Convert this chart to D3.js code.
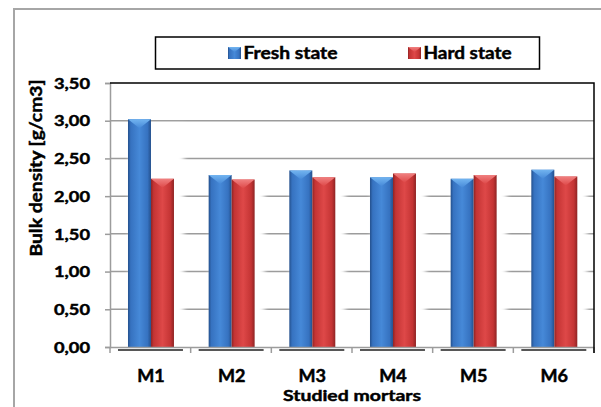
<!DOCTYPE html>
<html>
<head>
<meta charset="utf-8">
<script src="https://cdn.jsdelivr.net/npm/d3@7"></script>
<style>
html,body{margin:0;padding:0;background:#fff;}
svg{display:block;}
text{font-family:Lato,"Open Sans",sans-serif;font-weight:bold;fill:#000;stroke:#000;stroke-width:0.45px;}
</style>
</head>
<body>
<svg id="chart" width="601" height="407"></svg>
<script>
const categories = ["M1", "M2", "M3", "M4", "M5", "M6"];
const seriesNames = ["Fresh state", "Hard state"];
const freshState = [3.02, 2.28, 2.34, 2.25, 2.23, 2.35];
const hardState = [2.23, 2.22, 2.25, 2.30, 2.28, 2.26];
const yTicks = [0, 0.5, 1, 1.5, 2, 2.5, 3, 3.5];
const yTitle = "Bulk density [g/cm3]";
const xTitle = "Studied mortars";

const series = [freshState, hardState];
const palette = {
  "Fresh state": {dark: "#24508c", mid: "#3672c0", light: "#4689d8", cap: "#72b4f0"},
  "Hard state":  {dark: "#8e2424", mid: "#c43434", light: "#de4848", cap: "#f08080"}
};

const svg = d3.select("#chart");
const L = 110, R = 594, T = 83, B = 347;

// outer frame
svg.append("rect").attr("x", 14).attr("y", 9).attr("width", 620).attr("height", 420)
  .attr("fill", "#fff").attr("stroke", "#a6a6a6").attr("stroke-width", 2);

const defs = svg.append("defs");
seriesNames.forEach((s, i) => {
  const c = palette[s];
  const g = defs.append("linearGradient").attr("id", "g" + i).attr("x1", 0).attr("x2", 1).attr("y1", 0).attr("y2", 0);
  [[0, c.dark], [0.12, c.mid], [0.5, c.light], [0.85, c.mid], [1, c.dark]].forEach(([o, col]) =>
    g.append("stop").attr("offset", o).attr("stop-color", col));
  const gc = defs.append("linearGradient").attr("id", "c" + i).attr("x1", 0).attr("x2", 0).attr("y1", 0).attr("y2", 1);
  gc.append("stop").attr("offset", 0).attr("stop-color", c.cap);
  gc.append("stop").attr("offset", 1).attr("stop-color", c.light);
});
const blur = defs.append("filter").attr("id", "blur").attr("x", "-50%").attr("y", "-50%").attr("width", "200%").attr("height", "200%");
blur.append("feGaussianBlur").attr("stdDeviation", 2.5);

const x = d3.scaleBand().domain(categories).range([L, R]).paddingInner(0).paddingOuter(0);
const bw = x.bandwidth();
const x1 = d3.scaleBand().domain(seriesNames).range([bw * 0.223, bw * 0.793]).padding(0);
const y = d3.scaleLinear().domain([0, 3.5]).range([B, T]);

// gridlines
svg.append("g").selectAll("line").data(yTicks.filter(v => v > 0 && v < 3.5)).join("line")
  .attr("x1", L).attr("x2", R).attr("y1", d => y(d)).attr("y2", d => y(d))
  .attr("stroke", "#9c9c9c").attr("stroke-width", 1.5);

// y axis
const yAxis = d3.axisLeft(y).tickValues(yTicks).tickSize(5).tickPadding(15)
  .tickFormat(d => d3.format(".2f")(d).replace(".", ","));
const ya = svg.append("g").attr("transform", `translate(${L},0)`).call(yAxis);
ya.select(".domain").attr("stroke", "#9c9c9c").attr("stroke-width", 1.5);
ya.selectAll(".tick line").attr("stroke", "#9c9c9c").attr("stroke-width", 1.5);
ya.selectAll(".tick text").style("font-size", "14.5px").attr("textLength", 36).attr("lengthAdjust", "spacingAndGlyphs")
  .attr("dy", "0.36em");

// bar groups
const groups = svg.append("g").selectAll("g").data(categories).join("g")
  .attr("transform", d => `translate(${x(d)},0)`);

// soft white glow to the right of bars
groups.append("rect")
  .attr("x", x1(seriesNames[0]) + 2).attr("width", x1.bandwidth() * 2 + 8)
  .attr("y", (d, i) => y(Math.max(freshState[i], hardState[i])) + 6)
  .attr("height", (d, i) => B - y(Math.max(freshState[i], hardState[i])) - 8)
  .attr("fill", "#fff").attr("filter", "url(#blur)");

// x axis line and ticks
svg.append("line").attr("x1", L).attr("x2", R).attr("y1", B + 0.5).attr("y2", B + 0.5)
  .attr("stroke", "#9c9c9c").attr("stroke-width", 1.5);
svg.append("g").selectAll("line").data(categories.concat(["end"])).join("line")
  .attr("x1", (d, i) => L + i * bw).attr("x2", (d, i) => L + i * bw)
  .attr("y1", B).attr("y2", B + 6).attr("stroke", "#9c9c9c").attr("stroke-width", 1.5);

// dark shadow lines under groups
groups.append("line")
  .attr("x1", x1(seriesNames[0]) - 10).attr("x2", x1(seriesNames[1]) + x1.bandwidth() + 9)
  .attr("y1", B + 3).attr("y2", B + 3).attr("stroke", "#3a3a3a").attr("stroke-width", 2).attr("opacity", 0.85);

series.forEach((vals, si) => {
  const s = seriesNames[si];
  const w = x1.bandwidth();
  groups.append("rect")
    .attr("x", x1(s)).attr("width", w)
    .attr("y", (d, i) => y(vals[i])).attr("height", (d, i) => B - y(vals[i]))
    .attr("fill", `url(#g${si})`);
  groups.append("path")
    .attr("d", (d, i) => {
      const t = y(vals[i]), x0 = x1(s);
      return `M${x0},${t}L${x0 + w},${t}L${x0 + w / 2},${t + 9}Z`;
    })
    .attr("fill", `url(#c${si})`);
});

// plot border top and right
svg.append("path").attr("d", `M${L},${T}L${R},${T}L${R},${B + 6}`)
  .attr("fill", "none").attr("stroke", "#000").attr("stroke-width", 1.5);

// x labels
svg.append("g").selectAll("text").data(categories).join("text")
  .attr("x", d => x(d) + x1(seriesNames[1])).attr("y", 381.5)
  .attr("text-anchor", "middle").style("font-size", "16.5px")
  .attr("textLength", 27.5).attr("lengthAdjust", "spacingAndGlyphs")
  .text(d => d);

svg.append("text").attr("x", (L + R) / 2).attr("y", 401).attr("text-anchor", "middle")
  .style("font-size", "15px").attr("textLength", 138).attr("lengthAdjust", "spacingAndGlyphs")
  .text(xTitle);

// y title
svg.append("text").attr("transform", `translate(42,${168}) rotate(-90)`).attr("text-anchor", "middle")
  .style("font-size", "17px").attr("textLength", 177).attr("lengthAdjust", "spacingAndGlyphs")
  .text(yTitle);

// legend
svg.append("rect").attr("x", 155.5).attr("y", 37).attr("width", 384).attr("height", 32)
  .attr("fill", "#fff").attr("stroke", "#000").attr("stroke-width", 1.5);
const legendX = [228, 408];
const legendW = [94, 88];
seriesNames.forEach((s, i) => {
  const lg = svg.append("g").attr("transform", `translate(${legendX[i]},47)`);
  lg.append("rect").attr("width", 13).attr("height", 12).attr("fill", `url(#g${i})`);
  lg.append("path").attr("d", "M0,0L13,0L6.5,5Z").attr("fill", `url(#c${i})`);
  lg.append("text").attr("x", 15.5).attr("y", 12).style("font-size", "16.5px")
    .attr("textLength", legendW[i]).attr("lengthAdjust", "spacingAndGlyphs").text(s);
});
</script>
</body>
</html>
